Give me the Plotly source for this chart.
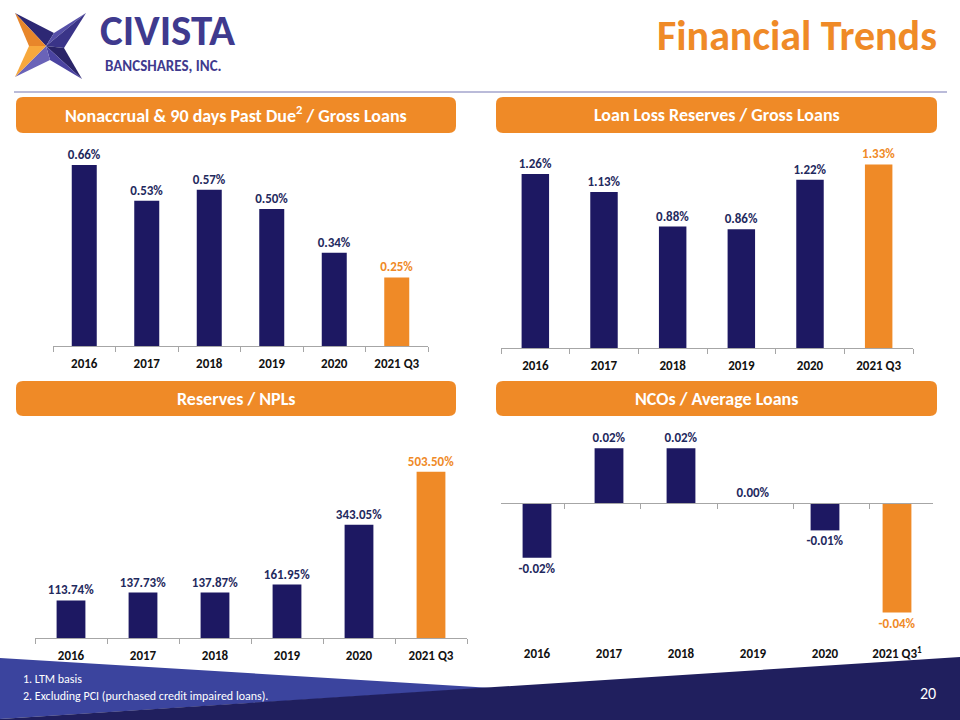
import plotly.graph_objects as go

# ---------------- data ----------------
categories = ["2016", "2017", "2018", "2019", "2020", "2021 Q3"]
nonaccrual = [0.66, 0.53, 0.57, 0.50, 0.34, 0.25]
loan_loss_reserves = [1.26, 1.13, 0.88, 0.86, 1.22, 1.33]
reserves_npls = [113.74, 137.73, 137.87, 161.95, 343.05, 503.50]
ncos = [-0.02, 0.02, 0.02, 0.00, -0.01, -0.04]
nco_ticktext = ["2016", "2017", "2018", "2019", "2020", "2021 Q3<sup>1</sup>"]

panel_titles = [
    "Nonaccrual & 90 days Past Due<sup>2</sup> / Gross Loans",
    "Loan Loss Reserves / Gross Loans",
    "Reserves / NPLs",
    "NCOs / Average Loans",
]
footnotes = ["1. LTM basis", "2. Excluding PCI (purchased credit impaired loans)."]
page_title = "Financial Trends"
page_number = "20"

# ---------------- style ----------------
NAVY = "#1D1862"
ORANGE = "#EF8A27"
LABEL_NAVY = "#1F2A5E"
AXIS_GRAY = "#A6A6A6"
FONT = "Carlito, Lato, Arial, sans-serif"
W, H = 960, 720


def px(x):
    return x / W


def py(y):
    return 1 - y / H


def colors(n):
    return [NAVY] * (n - 1) + [ORANGE]


def tcolors(n):
    return [LABEL_NAVY] * (n - 1) + [ORANGE]


fig = go.Figure()

series = [
    (nonaccrual, "x", "y", "%{y:.2f}%"),
    (loan_loss_reserves, "x2", "y2", "%{y:.2f}%"),
    (reserves_npls, "x3", "y3", "%{y:.2f}%"),
    (ncos, "x4", "y4", "%{y:.2f}%"),
]
for vals, xa, ya, tt in series:
    fig.add_trace(go.Bar(
        x=categories, y=vals, xaxis=xa, yaxis=ya,
        marker=dict(color=colors(len(vals)), line=dict(width=0)),
        texttemplate=tt, textposition="outside", constraintext="none",
        textfont=dict(family=FONT, size=13, color=tcolors(len(vals)), weight="bold"),
        cliponaxis=False, hoverinfo="skip", showlegend=False,
    ))

# invisible trace to carry the zero-line tick axis of the NCO chart
fig.add_trace(go.Scatter(
    x=categories, y=[0] * len(categories), xaxis="x5", yaxis="y4",
    mode="markers", marker=dict(opacity=0), hoverinfo="skip", showlegend=False,
))

tickfont = dict(family=FONT, size=13, color="#111111", weight="bold")

def xaxis(domain, **kw):
    d = dict(domain=domain, type="category", showgrid=False, zeroline=False,
             showline=True, linecolor=AXIS_GRAY, linewidth=1,
             ticks="outside", tickson="boundaries", ticklen=5, tickcolor=AXIS_GRAY,
             ticklabelstandoff=5, tickfont=tickfont, fixedrange=True)
    d.update(kw)
    return d


def yaxis(domain, rng, anchor, **kw):
    d = dict(domain=domain, range=rng, visible=False, showgrid=False,
             zeroline=False, anchor=anchor, fixedrange=True)
    d.update(kw)
    return d


fig.update_layout(
    width=W, height=H, margin=dict(l=0, r=0, t=0, b=0),
    paper_bgcolor="white", plot_bgcolor="rgba(0,0,0,0)",
    bargap=0.6, showlegend=False,
    font=dict(family=FONT),
    xaxis=xaxis([px(53), px(428)], anchor="y"),
    yaxis=yaxis([py(346), py(145)], [0, 0.733], "x"),
    xaxis2=xaxis([px(501), px(913)], anchor="y2"),
    yaxis2=yaxis([py(348), py(145)], [0, 1.471], "x2"),
    xaxis3=xaxis([px(35), px(467)], anchor="y3"),
    yaxis3=yaxis([py(638), py(440)], [0, 600], "x3"),
    xaxis4=xaxis([px(501), px(933)], anchor="y4", showline=False, ticks="",
                 ticklabelstandoff=8),
    yaxis4=yaxis([py(636), py(440)], [-0.04854, 0.02299], "x4"),
    xaxis5=xaxis([px(501), px(933)], anchor="free", overlaying="x4",
                 position=py(503), showticklabels=False),
)
fig.layout.xaxis4.tickvals = categories
fig.layout.xaxis4.ticktext = nco_ticktext

shapes = []
annotations = []

# separator line under the logo
shapes.append(dict(type="line", xref="paper", yref="paper",
                   x0=px(14), x1=px(947), y0=py(92), y1=py(92),
                   line=dict(color="#A3A4CC", width=1.5)))


def rrect(x0, y0, x1, y1, r):
    return (f"M {px(x0 + r)} {py(y0)} L {px(x1 - r)} {py(y0)} "
            f"Q {px(x1)} {py(y0)} {px(x1)} {py(y0 + r)} "
            f"L {px(x1)} {py(y1 - r)} Q {px(x1)} {py(y1)} {px(x1 - r)} {py(y1)} "
            f"L {px(x0 + r)} {py(y1)} Q {px(x0)} {py(y1)} {px(x0)} {py(y1 - r)} "
            f"L {px(x0)} {py(y0 + r)} Q {px(x0)} {py(y0)} {px(x0 + r)} {py(y0)} Z")


headers = [(16, 97, 456, 133), (496, 97, 937, 133), (16, 381, 456, 416), (496, 381, 937, 416)]
for (x0, y0, x1, y1), t in zip(headers, panel_titles):
    shapes.append(dict(type="path", xref="paper", yref="paper", path=rrect(x0, y0, x1, y1, 7),
                       fillcolor=ORANGE, line=dict(width=0)))
    annotations.append(dict(text=t, xref="paper", yref="paper", x=px((x0 + x1) / 2),
                            y=py((y0 + y1) / 2), showarrow=False, xanchor="center", yanchor="middle",
                            font=dict(family=FONT, size=18, color="white", weight="bold")))

# footer bands
def poly(pts):
    return "M " + " L ".join(f"{px(x)} {py(y)}" for x, y in pts) + " Z"

shapes.append(dict(type="path", xref="paper", yref="paper", layer="below",
                   path=poly([(0, 658), (492, 688), (0, 719)]),
                   fillcolor="#3B449E", line=dict(width=0)))
shapes.append(dict(type="path", xref="paper", yref="paper", layer="below",
                   path=poly([(0, 720), (0, 719), (960, 657), (960, 720)]),
                   fillcolor="#201F5E", line=dict(width=0)))

for i, t in enumerate(footnotes):
    annotations.append(dict(text=t, xref="paper", yref="paper", x=px(21), y=py(679 + 17 * i),
                            showarrow=False, xanchor="left", yanchor="middle",
                            font=dict(family=FONT, size=12, color="white")))
annotations.append(dict(text=page_number, xref="paper", yref="paper", x=px(928), y=py(693),
                        showarrow=False, xanchor="center", yanchor="middle",
                        font=dict(family=FONT, size=16, color="white")))

# page title
annotations.append(dict(text=page_title, xref="paper", yref="paper", x=px(939), y=py(35),
                        showarrow=False, xanchor="right", yanchor="middle",
                        font=dict(family=FONT, size=42, color=ORANGE, weight="bold")))

# logo
TL, TR, BR, BL = (15, 13), (86, 13), (82, 79), (15, 77)
O = (46, 46)
TOPI, RIGHTI, BOTI = (54, 33), (64, 48), (50, 60)
NOTCH = (29, 46)
logo_facets = [
    ([TL, TOPI, O], "#2D2874"),
    ([TOPI, TR, O], "#5650A8"),
    ([TR, RIGHTI, O], "#3A3488"),
    ([RIGHTI, BR, O], "#2A2468"),
    ([BR, BOTI, O], "#4A43A0"),
    ([BOTI, BL, O], "#6A63B8"),
    ([TL, O, NOTCH], "#E8862A"),
    ([NOTCH, O, BL], "#F7A83C"),
]
for pts, c in logo_facets:
    shapes.append(dict(type="path", xref="paper", yref="paper", path=poly(pts),
                       fillcolor=c, line=dict(width=0)))
annotations.append(dict(text="CIVISTA", xref="paper", yref="paper", x=px(98), y=py(31),
                        showarrow=False, xanchor="left", yanchor="middle",
                        font=dict(family=FONT, size=43, color="#3F3A8E", weight="bold")))
annotations.append(dict(text="BANCSHARES, INC.", xref="paper", yref="paper", x=px(103), y=py(66),
                        showarrow=False, xanchor="left", yanchor="middle",
                        font=dict(family=FONT, size=15, color="#3F3A8E", weight="bold")))

fig.update_layout(shapes=shapes, annotations=annotations)
fig.write_html("out.html", config={"displayModeBar": False},
               post_script="document.body.style.margin='0';")
